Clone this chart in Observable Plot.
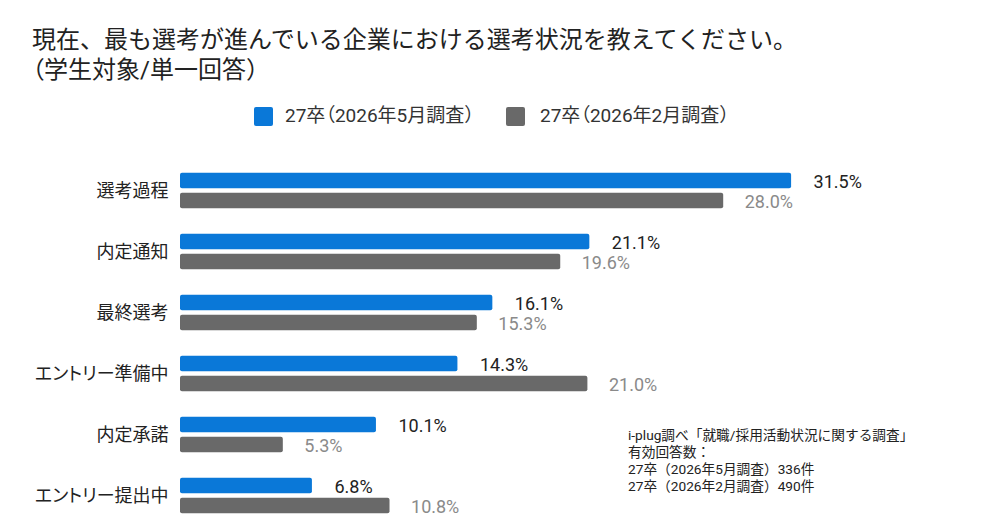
<!DOCTYPE html>
<html>
<head>
<meta charset="utf-8">
<script src="https://cdn.jsdelivr.net/npm/d3@7"></script>
<script src="https://cdn.jsdelivr.net/npm/@observablehq/plot@0.6"></script>
<style>
  html, body { margin: 0; padding: 0; background: #fff; }
  body { width: 1000px; height: 523px; position: relative; overflow: hidden;
         font-family: Roboto, "Noto Sans CJK JP", sans-serif; color: #222; }
  #header { position: relative; width: 1000px; height: 130px; }
  #title { position: absolute; left: 32px; top: 25px; font-size: 24px; line-height: 30px; color: #222; white-space: nowrap; }
  .palt { font-feature-settings: "palt"; }
  .leg { position: absolute; top: 104px; height: 24px; line-height: 24px; font-size: 19px; color: #333; white-space: nowrap; }
  .sw { position: absolute; width: 19px; height: 19px; top: 107px; border-radius: 2px; }
  #note { position: absolute; left: 628px; top: 427px; font-size: 13.7px; line-height: 17px; color: #222; white-space: nowrap; }
  #chart svg { display: block; }
  #chart svg g[aria-label="y-axis tick label"] text { font-feature-settings: "palt"; }
</style>
</head>
<body>
<div id="header">
  <div id="title"></div>
  <div class="sw" id="sw0"></div><div class="leg" id="leg0"></div>
  <div class="sw" id="sw1"></div><div class="leg" id="leg1"></div>
</div>
<div id="chart"></div>
<div id="note"></div>
<script>
const titleLines = ["現在、最も選考が進んでいる企業における選考状況を教えてください。", "（学生対象/単一回答）"];
const categories = ["選考過程", "内定通知", "最終選考", "エントリー準備中", "内定承諾", "エントリー提出中"];
const seriesNames = ["27卒（2026年5月調査）", "27卒（2026年2月調査）"];
const valuesMay = [31.5, 21.1, 16.1, 14.3, 10.1, 6.8];
const valuesFeb = [28.0, 19.6, 15.3, 21.0, 5.3, 10.8];
const seriesColors = ["#0a78d8", "#696969"];
const noteLines = ["i-plug調べ「就職/採用活動状況に関する調査」", "有効回答数：", "27卒（2026年5月調査）336件", "27卒（2026年2月調査）490件"];

// opening full-width parenthesis rendered with proportional width, as in the reference
const esc = s => s.replace(/&/g, "&amp;").replace(/</g, "&lt;");
const paltOpen = s => esc(s).replace(/（/g, '<span class="palt">（</span>');

document.getElementById("title").innerHTML = titleLines.map(paltOpen).join("<br>");
document.getElementById("note").innerHTML = noteLines.map(esc).join("<br>");
const legPos = [[254, 285], [506, 540]];
seriesNames.forEach((s, i) => {
  const sw = document.getElementById("sw" + i);
  sw.style.left = legPos[i][0] + "px";
  sw.style.background = seriesColors[i];
  const lg = document.getElementById("leg" + i);
  lg.style.left = legPos[i][1] + "px";
  lg.innerHTML = paltOpen(s);
});

const may = categories.map((c, i) => ({category: c, series: seriesNames[0], value: valuesMay[i]}));
const feb = categories.map((c, i) => ({category: c, series: seriesNames[1], value: valuesFeb[i]}));

const chart = Plot.plot({
  width: 1000,
  height: 393,
  marginLeft: 180,
  marginRight: 44,
  marginTop: 0,
  marginBottom: 0,
  style: {fontFamily: 'Roboto, "Noto Sans CJK JP", sans-serif', background: "#fff"},
  x: {domain: [0, 40], axis: null},
  y: {domain: categories, range: [28.25, 397.25], padding: 0, axis: null},
  marks: [
    Plot.axisY({tickSize: 0, tickPadding: 12, fontSize: 18, fill: "#222", label: null}),
    Plot.barX(may, {x: "value", y: "category", fill: seriesColors[0], insetTop: 12.75, insetBottom: 32.75, rx: 2}),
    Plot.barX(feb, {x: "value", y: "category", fill: seriesColors[1], insetTop: 32.75, insetBottom: 12.75, rx: 2}),
    Plot.text(may, {x: "value", y: "category", text: d => d.value.toFixed(1) + "%", dx: 22, dy: -9, textAnchor: "start", fontSize: 18, fill: "#222"}),
    Plot.text(feb, {x: "value", y: "category", text: d => d.value.toFixed(1) + "%", dx: 21, dy: 11, textAnchor: "start", fontSize: 18, fill: "#8a8a8a"})
  ]
});
document.getElementById("chart").appendChild(chart);
</script>
</body>
</html>
